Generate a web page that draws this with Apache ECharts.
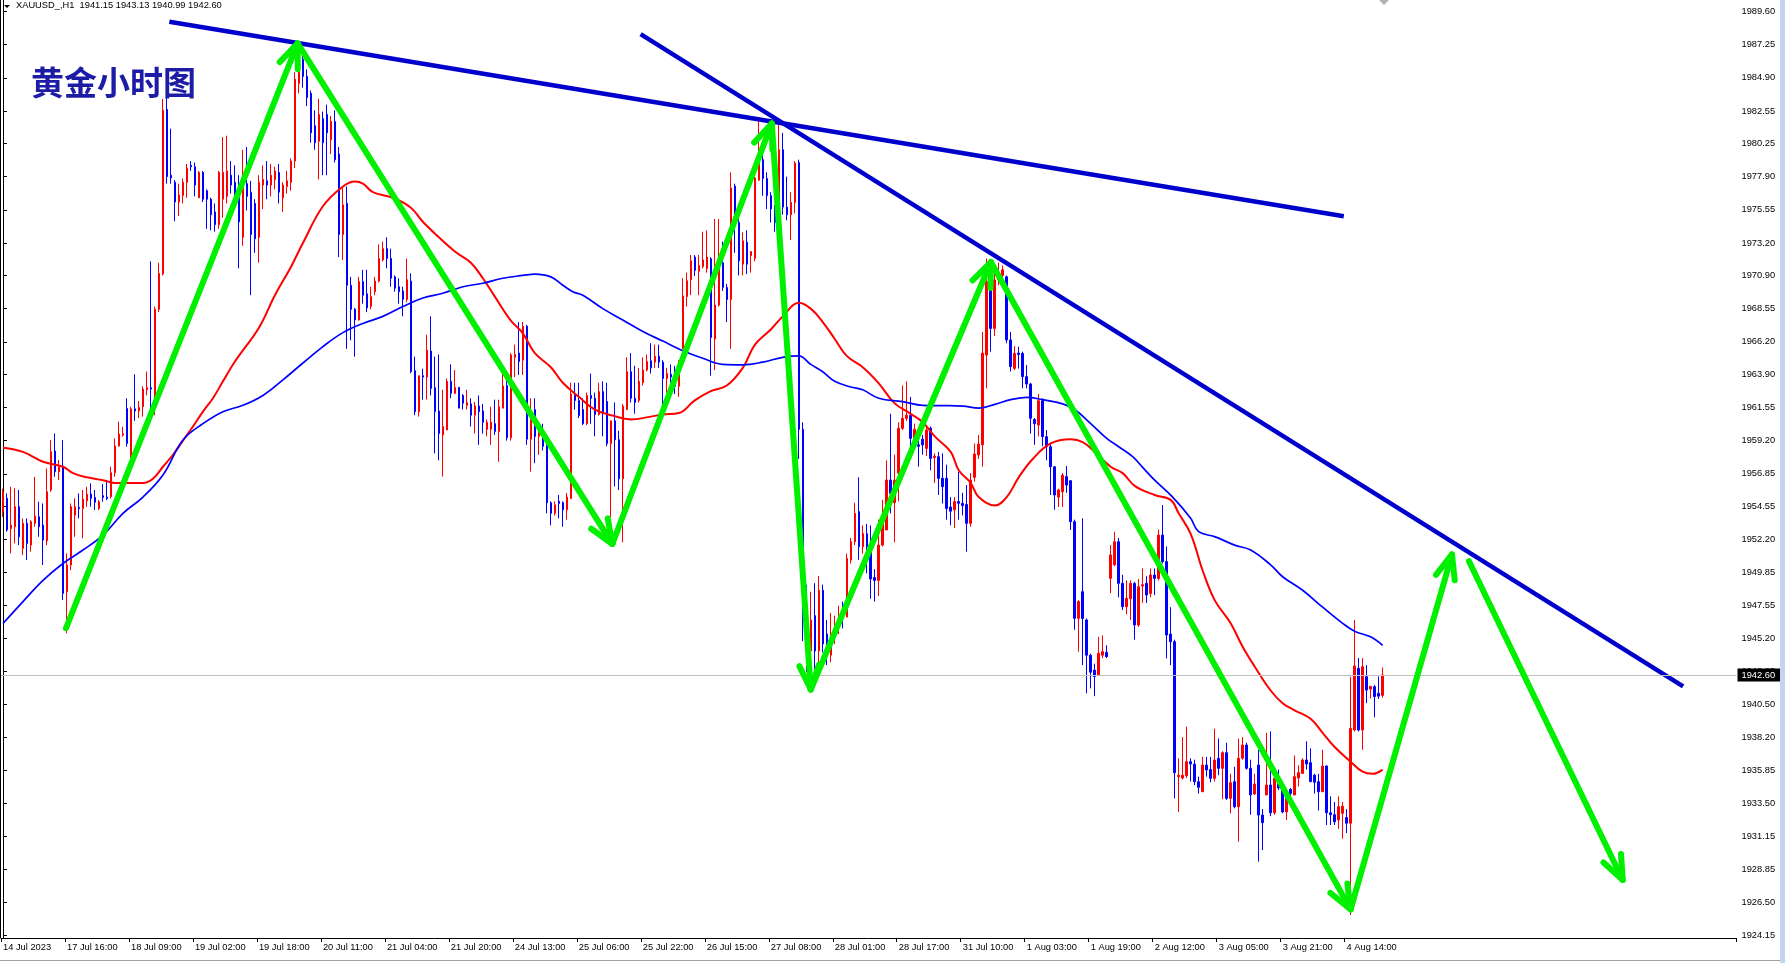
<!DOCTYPE html>
<html><head><meta charset="utf-8">
<script src="https://cdn.jsdelivr.net/npm/echarts@6/dist/echarts.min.js"></script>
<style>html,body{margin:0;padding:0;background:#fff}#c{width:1785px;height:963px}</style>
</head><body><div id="c"></div>
<script>
// ---- data ----
const symbolTitle = 'XAUUSD_,H1  1941.15 1943.13 1940.99 1942.60';
const chartTitle = '黄金小时图';
const lastPrice = 1942.60;
const slotCount = 434; // bar slots incl. empty chart shift
const xTickLabels = ['14 Jul 2023','17 Jul 16:00','18 Jul 09:00','19 Jul 02:00','19 Jul 18:00','20 Jul 11:00','21 Jul 04:00','21 Jul 20:00','24 Jul 13:00','25 Jul 06:00','25 Jul 22:00','26 Jul 15:00','27 Jul 08:00','28 Jul 01:00','28 Jul 17:00','31 Jul 10:00','1 Aug 03:00','1 Aug 19:00','2 Aug 12:00','3 Aug 05:00','3 Aug 21:00','4 Aug 14:00'];
const barsPerLabel = 16;
const yTickLabels = ['1924.15','1926.50','1928.85','1931.15','1933.50','1935.85','1938.20','1940.50','1942.85','1945.20','1947.55','1949.85','1952.20','1954.55','1956.85','1959.20','1961.55','1963.90','1966.20','1968.55','1970.90','1973.20','1975.55','1977.90','1980.25','1982.55','1984.90','1987.25','1989.60'];
const yMin = 1923.97, yMax = 1990.41;
// [open, high, low, close]
const ohlc = [
[1954.16,1955.8,1953.8,1955.58],[1955.11,1955.46,1952.75,1952.87],[1952.98,1955.93,1951.21,1953.22],[1953.10,1955.82,1951.92,1954.52],
[1954.52,1955.70,1951.80,1952.39],[1951.57,1953.69,1951.09,1953.34],[1953.34,1953.69,1950.74,1951.92],[1951.80,1953.57,1951.33,1953.46],
[1953.34,1956.64,1953.10,1953.86],[1953.81,1954.87,1952.39,1953.10],[1953.22,1954.75,1950.39,1952.16],[1952.11,1957.23,1951.80,1955.58],
[1955.70,1959.24,1955.58,1958.41],[1958.46,1959.71,1956.64,1957.00],[1957.00,1957.82,1956.41,1957.30],[1957.40,1959.24,1947.91,1948.38],
[1948.50,1951.21,1945.55,1950.39],[1950.39,1954.75,1950.03,1954.52],[1953.93,1955.11,1952.39,1954.52],[1954.47,1955.46,1953.69,1954.38],
[1954.40,1955.70,1952.28,1955.06],[1954.94,1955.93,1954.52,1955.39],[1955.42,1956.17,1954.52,1955.11],[1955.18,1955.70,1954.28,1954.83],
[1954.40,1954.99,1954.28,1954.87],[1955.30,1956.12,1954.87,1955.18],[1955.20,1956.41,1954.99,1955.10],[1955.23,1957.35,1955.11,1956.93],
[1956.93,1959.36,1956.64,1958.82],[1958.82,1960.54,1958.77,1959.67],[1959.60,1960.18,1959.48,1959.70],[1961.48,1962.2,1958.77,1959.00],
[1957.94,1961.6,1957.2,1961.45],[1961.45,1963.9,1960.6,1961.3],[1961.3,1962.0,1960.8,1961.55],[1961.6,1963.05,1960.9,1962.85],
[1962.8,1964.1,1962.4,1962.95],[1962.95,1971.9,1960.5,1962.85],[1962.1,1968.7,1961.0,1968.5],[1968.5,1971.8,1968.3,1971.05],
[1971.0,1983.4,1970.9,1982.6],[1982.65,1984.13,1977.4,1977.9],[1978.0,1981.3,1977.4,1977.8],[1977.5,1977.65,1974.74,1976.1],
[1976.1,1977.4,1975.1,1976.6],[1976.56,1977.78,1976.0,1977.5],[1977.5,1978.8,1976.4,1978.5],[1978.7,1979.0,1978.3,1978.6],
[1978.6,1978.9,1976.5,1977.3],[1976.4,1978.3,1976.4,1978.2],[1978.2,1978.3,1976.1,1976.3],[1976.9,1977.0,1974.2,1976.3],
[1976.3,1976.4,1974.1,1975.2],[1975.4,1976.0,1974.0,1974.5],[1974.5,1978.3,1974.2,1978.2],[1976.3,1980.7,1975.0,1978.2],
[1976.5,1980.8,1976.0,1978.3],[1978.0,1979.0,1976.7,1977.3],[1977.5,1978.7,1976.0,1976.6],[1976.8,1978.0,1971.4,1974.7],
[1973.6,1979.8,1973.0,1977.5],[1977.4,1980.0,1975.5,1976.5],[1976.8,1977.6,1969.5,1973.8],[1976.0,1976.3,1972.5,1973.5],
[1973.6,1978.0,1971.8,1977.5],[1977.3,1978.7,1975.6,1977.7],[1977.6,1979.0,1976.3,1977.3],[1977.3,1978.8,1976.5,1978.0],
[1977.7,1978.6,1977.0,1978.3],[1978.2,1978.8,1976.0,1976.8],[1976.4,1977.5,1975.4,1977.3],[1977.2,1978.3,1976.7,1977.6],
[1977.5,1979.2,1976.9,1979.0],[1979.0,1985.3,1978.5,1984.8],[1984.5,1987.0,1983.8,1985.6],[1986.2,1987.1,1984.2,1985.0],
[1985.0,1985.5,1982.9,1983.5],[1983.8,1984.0,1980.3,1981.0],[1981.5,1982.6,1979.8,1980.3],[1980.4,1983.4,1977.7,1982.3],
[1982.0,1982.5,1978.0,1980.3],[1982.3,1983.0,1978.0,1981.0],[1980.5,1982.2,1979.5,1981.8],[1981.8,1982.6,1978.9,1979.1],
[1979.5,1980.0,1972.2,1973.8],[1973.8,1977.2,1972.0,1975.9],[1976.0,1977.2,1965.7,1970.2],[1970.2,1970.8,1966.3,1968.5],
[1968.5,1968.6,1965.15,1967.75],[1967.75,1970.8,1967.7,1970.46],[1970.46,1971.3,1968.9,1969.5],[1969.6,1971.3,1968.3,1968.6],
[1968.7,1970.1,1968.5,1969.4],[1969.75,1970.8,1969.5,1970.5],[1970.5,1973.1,1970.4,1972.1],[1972.0,1973.3,1971.9,1972.8],
[1972.8,1973.6,1971.4,1972.1],[1972.1,1972.8,1970.1,1970.7],[1970.8,1970.9,1969.75,1970.0],[1970.1,1970.7,1968.9,1969.75],
[1969.8,1970.1,1968.0,1969.2],[1969.2,1972.1,1969.0,1970.6],[1970.5,1971.05,1963.97,1964.1],[1964.15,1965.15,1961.0,1961.25],
[1961.25,1963.8,1960.9,1963.8],[1963.8,1964.3,1962.1,1963.7],[1963.7,1966.7,1962.1,1965.6],[1965.55,1968.0,1962.4,1962.9],
[1962.95,1965.15,1958.3,1961.25],[1961.3,1965.3,1957.8,1959.7],[1959.6,1962.8,1956.65,1960.2],[1959.95,1963.6,1959.95,1963.4],
[1963.4,1964.6,1962.2,1962.55],[1962.55,1964.2,1962.5,1962.97],[1962.97,1963.0,1961.5,1961.5],[1962.4,1962.5,1961.4,1961.85],
[1961.7,1962.8,1961.4,1961.9],[1961.8,1962.2,1960.2,1961.0],[1961.0,1961.95,1959.7,1961.65],[1961.65,1962.4,1958.9,1961.25],
[1961.3,1961.8,1959.7,1960.5],[1960.0,1960.7,1959.5,1960.5],[1960.0,1961.6,1958.9,1960.5],[1960.4,1962.1,1959.6,1959.85],
[1959.85,1962.1,1957.7,1961.6],[1961.5,1964.0,1961.5,1963.07],[1963.1,1963.7,1959.2,1959.4],[1959.4,1965.4,1959.2,1965.27],
[1965.1,1966.0,1963.7,1965.3],[1965.4,1967.6,1963.85,1964.8],[1964.9,1967.6,1963.85,1967.3],[1967.3,1967.4,1958.9,1959.3],
[1959.3,1962.2,1957.0,1961.1],[1961.4,1962.2,1957.6,1959.5],[1959.5,1960.4,1958.2,1959.8],[1959.4,1960.4,1958.5,1958.8],
[1959.0,1959.25,1954.05,1954.8],[1954.8,1954.9,1953.2,1954.05],[1954.05,1954.9,1953.9,1954.65],[1954.9,1955.35,1953.7,1954.75],
[1954.8,1954.9,1953.1,1954.3],[1954.3,1955.5,1953.6,1955.2],[1955.1,1963.3,1955.1,1962.5],[1962.46,1963.3,1961.4,1962.05],
[1962.05,1963.3,1960.8,1960.97],[1961.4,1962.2,1960.3,1960.4],[1960.4,1962.6,1960.3,1962.4],[1962.4,1963.95,1960.4,1962.2],
[1962.2,1962.6,1959.5,1961.05],[1961.05,1963.3,1960.97,1962.67],[1962.67,1963.4,1959.5,1961.2],[1961.97,1963.3,1958.8,1958.99],
[1958.99,1960.6,1953.78,1960.6],[1960.6,1961.9,1955.95,1959.26],[1959.26,1959.9,1955.7,1956.5],[1956.5,1961.8,1952.0,1961.64],
[1961.4,1965.1,1961.4,1964.08],[1964.08,1965.4,1961.9,1962.2],[1962.2,1964.5,1961.1,1961.9],[1962.05,1964.35,1961.9,1963.4],
[1963.3,1965.1,1963.1,1964.2],[1964.2,1965.3,1964.1,1964.8],[1964.85,1966.1,1963.95,1964.35],[1964.76,1966.0,1964.35,1965.17],
[1965.17,1966.0,1964.35,1964.76],[1964.76,1964.9,1961.65,1963.6],[1963.6,1964.35,1962.6,1963.95],[1963.9,1964.6,1962.7,1963.7],
[1964.2,1964.5,1962.5,1963.05],[1963.05,1964.9,1962.3,1964.84],[1965.7,1970.7,1965.7,1969.45],[1969.4,1971.1,1968.7,1970.53],
[1970.6,1972.35,1969.5,1971.94],[1972.2,1972.35,1970.85,1971.26],[1971.2,1972.35,1969.5,1971.6],[1971.53,1974.0,1971.4,1972.0],
[1971.4,1974.1,1971.1,1972.2],[1972.08,1972.2,1963.8,1966.5],[1966.4,1974.9,1964.2,1968.8],[1968.8,1974.9,1968.7,1972.2],
[1971.8,1973.3,1969.8,1970.05],[1970.05,1970.3,1967.6,1969.2],[1969.2,1978.2,1965.7,1977.1],[1977.23,1977.4,1972.5,1974.66],
[1974.66,1975.2,1970.9,1971.94],[1971.7,1973.95,1970.9,1973.35],[1973.25,1974.1,1971.0,1971.7],[1972.3,1972.6,1971.1,1972.6],
[1972.1,1977.9,1971.9,1977.8],[1977.65,1982.0,1977.6,1979.0],[1979.1,1979.5,1976.55,1977.77],[1977.77,1978.2,1975.6,1976.55],
[1976.55,1976.8,1974.65,1975.6],[1975.6,1975.9,1974.0,1974.65],[1974.65,1981.57,1974.4,1979.8],[1979.8,1981.0,1975.2,1975.74],
[1975.74,1977.9,1974.8,1975.2],[1975.2,1976.8,1973.4,1976.07],[1976.07,1979.0,1975.3,1978.86],[1978.9,1979.1,1957.9,1960.0],
[1960.0,1960.5,1945.0,1947.0],[1947.5,1949.0,1942.8,1944.3],[1944.3,1948.5,1943.2,1946.5],[1946.8,1949.1,1943.0,1944.3],
[1944.3,1949.6,1943.5,1948.6],[1948.6,1949.0,1944.2,1944.8],[1945.5,1946.5,1943.3,1944.0],[1944.0,1947.0,1943.5,1945.5],
[1945.5,1946.8,1944.8,1946.2],[1946.2,1947.5,1945.5,1946.8],[1947.6,1947.8,1945.9,1947.1],[1946.7,1951.2,1946.7,1950.86],
[1950.74,1952.3,1950.5,1952.04],[1952.04,1954.8,1951.8,1954.05],[1954.17,1956.6,1950.75,1951.69],[1951.69,1953.2,1951.2,1952.63],
[1952.6,1953.3,1949.8,1951.7],[1951.3,1953.2,1948.0,1949.4],[1949.5,1950.1,1947.8,1949.3],[1949.3,1953.6,1948.2,1951.8],
[1951.8,1955.0,1951.7,1953.7],[1952.87,1957.8,1952.87,1956.41],[1956.41,1961.1,1954.05,1955.47],[1954.8,1958.2,1952.0,1956.4],
[1956.9,1960.5,1954.9,1960.07],[1960.07,1963.1,1959.95,1960.78],[1960.78,1963.4,1960.6,1961.0],[1961.0,1962.3,1958.8,1959.36],
[1959.4,1960.4,1958.6,1960.0],[1958.9,1960.1,1957.35,1958.8],[1959.3,1959.6,1958.2,1958.9],[1958.65,1960.3,1958.1,1959.95],
[1960.07,1960.2,1957.1,1957.94],[1958.0,1958.3,1956.2,1958.1],[1958.06,1958.4,1955.35,1956.53],[1956.53,1958.3,1954.75,1955.94],
[1956.53,1957.5,1953.6,1954.4],[1954.5,1955.2,1953.2,1954.2],[1954.3,1955.2,1953.0,1954.88],[1954.88,1957.0,1953.6,1954.76],
[1954.76,1955.5,1953.9,1954.6],[1954.68,1956.05,1951.33,1953.34],[1953.34,1956.9,1953.1,1956.41],[1956.6,1959.0,1956.3,1958.25],
[1958.18,1959.6,1957.9,1958.96],[1958.9,1966.9,1957.35,1965.4],[1965.26,1972.1,1962.9,1970.46],[1969.99,1971.05,1965.5,1967.15],
[1967.15,1971.4,1966.6,1970.58],[1970.6,1971.8,1970.2,1970.9],[1970.9,1971.6,1970.5,1971.3],[1970.8,1970.9,1966.1,1966.33],
[1966.33,1966.9,1964.1,1964.44],[1964.32,1965.9,1964.2,1965.38],[1965.4,1965.85,1964.3,1965.3],[1965.38,1965.5,1962.9,1963.73],
[1963.73,1964.55,1962.9,1963.21],[1963.21,1963.3,1959.7,1960.78],[1960.7,1960.8,1958.9,1960.4],[1960.3,1962.5,1959.5,1962.03],
[1962.03,1962.2,1958.8,1959.48],[1959.48,1959.95,1957.8,1958.77],[1958.77,1959.0,1955.35,1957.35],[1957.35,1957.4,1954.3,1955.35],
[1955.2,1955.8,1954.5,1955.7],[1955.58,1956.9,1954.5,1956.76],[1956.65,1957.4,1955.5,1956.05],[1956.36,1956.4,1952.87,1953.46],
[1953.46,1953.6,1945.8,1946.61],[1946.61,1947.9,1944.25,1947.8],[1948.5,1953.7,1943.3,1946.6],[1946.5,1946.6,1941.3,1944.0],
[1944.0,1944.1,1941.65,1942.8],[1942.95,1943.4,1941.1,1942.5],[1942.6,1945.3,1942.6,1944.13],[1944.0,1945.4,1943.8,1944.25],
[1944.2,1944.7,1943.8,1943.9],[1949.45,1951.8,1948.4,1951.1],[1950.4,1952.75,1950.3,1952.04],[1952.04,1952.3,1948.1,1949.09],
[1949.09,1949.7,1947.2,1947.44],[1947.44,1949.3,1946.9,1948.03],[1948.0,1949.3,1946.5,1949.09],[1949.09,1949.2,1945.1,1946.14],
[1946.14,1949.4,1946.0,1948.85],[1948.9,1950.15,1947.7,1949.0],[1949.09,1949.6,1947.7,1948.26],[1948.38,1950.15,1948.1,1949.68],
[1949.68,1950.15,1948.26,1949.44],[1949.44,1952.9,1949.3,1952.51],[1952.51,1954.64,1950.5,1950.63],[1950.63,1951.7,1943.78,1945.43],
[1945.5,1947.4,1943.3,1944.96],[1944.96,1945.1,1933.86,1935.68],[1935.4,1936.7,1932.9,1935.5],[1935.3,1938.2,1935.2,1935.5],
[1935.47,1938.94,1935.3,1936.46],[1936.46,1936.7,1935.05,1936.3],[1936.29,1936.6,1934.8,1935.04],[1935.04,1935.4,1934.2,1934.64],
[1934.33,1936.8,1934.33,1936.22],[1936.22,1936.8,1935.4,1935.87],[1935.9,1936.8,1935.0,1935.28],[1935.28,1938.8,1935.05,1936.58],
[1936.7,1938.1,1935.5,1935.99],[1935.99,1937.2,1933.8,1937.1],[1937.1,1937.8,1933.75,1933.86],[1933.86,1935.6,1932.8,1934.97],
[1935.04,1936.1,1933.15,1933.27],[1933.27,1938.1,1930.79,1936.7],[1936.7,1938.2,1936.6,1937.64],[1937.64,1937.8,1935.9,1935.99],
[1935.99,1936.6,1932.7,1934.1],[1934.17,1935.6,1934.1,1934.88],[1936.22,1937.3,1929.38,1932.68],[1932.68,1933.1,1930.2,1932.14],
[1934.1,1938.5,1934.1,1934.81],[1934.81,1938.6,1932.6,1932.84],[1932.84,1936.0,1932.7,1935.28],[1934.9,1935.9,1934.45,1934.6],
[1934.45,1934.6,1932.8,1932.9],[1932.9,1934.2,1932.33,1933.86],[1934.5,1934.6,1934.0,1934.2],[1934.1,1936.9,1934.1,1935.4],
[1935.3,1936.2,1934.7,1935.68],[1935.63,1936.7,1935.6,1936.58],[1936.58,1937.9,1935.9,1936.3],[1936.39,1937.4,1935.04,1935.04],
[1935.5,1935.6,1934.2,1935.0],[1935.04,1935.6,1933.0,1934.33],[1934.33,1937.3,1934.33,1936.15],[1936.15,1936.2,1931.97,1932.84],
[1932.84,1934.0,1931.97,1932.7],[1932.7,1933.6,1931.97,1932.2],[1932.33,1934.0,1931.7,1933.27],[1932.8,1933.6,1931.0,1933.3],
[1932.5,1933.1,1931.4,1932.1],[1932.1,1942.48,1925.6,1938.82],[1938.7,1946.5,1938.6,1943.24],[1943.07,1943.8,1938.6,1938.7],
[1938.7,1943.8,1937.3,1943.19],[1942.48,1943.3,1940.6,1941.53],[1941.6,1941.8,1940.95,1941.8],[1941.77,1941.9,1939.6,1941.07],
[1941.3,1942.5,1940.9,1941.1],[1941.15,1943.13,1940.99,1942.60]
];
// moving averages: [bar, price]
const maRed = [[0,1958.7],[5,1958.4],[10,1957.7],[15,1957.35],[17.5,1956.9],[21,1956.6],[25,1956.4],[28,1956.2],[35,1956.2],[37.5,1956.5],[40,1957.35],[42.5,1958.2],[45,1959.2],[47.5,1960.2],[50,1961.25],[52.5,1962.2],[55,1963.4],[58,1964.8],[64,1967.2],[68,1969.5],[72,1971.5],[75,1973.2],[80,1975.8],[85,1977.2],[88,1977.55],[90,1977.4],[92.5,1976.8],[97.5,1976.4],[102,1975.7],[105,1974.7],[109,1973.6],[113,1972.6],[117,1971.8],[120,1970.7],[123,1969.4],[127,1967.7],[130,1966.8],[133,1965.4],[137,1964.4],[140,1963.3],[144,1962.3],[148,1961.4],[152.5,1960.97],[157,1960.7],[162,1960.9],[165,1961.05],[169,1961.15],[173,1962.05],[177,1962.7],[181,1963.1],[185,1964.35],[188,1965.98],[192,1967.07],[195,1968.0],[199,1968.96],[202,1968.55],[205,1967.6],[208,1966.4],[211,1965.2],[215,1964.4],[219,1963.26],[223,1961.84],[227,1961.1],[230,1960.5],[233,1959.5],[237,1958.4],[239,1957.1],[242,1956.2],[244,1955.2],[248,1954.6],[251,1955.2],[254,1956.6],[257.5,1957.9],[262,1959.0],[267,1959.3],[270,1959.1],[273,1958.4],[277,1957.35],[280,1956.9],[283,1956.0],[288,1955.35],[292,1955.0],[294,1954.05],[297,1952.6],[300,1950.0],[303,1947.9],[307,1946.26],[310,1944.6],[313,1943.2],[317,1941.5],[320,1940.6],[323,1940.1],[327,1939.5],[330,1938.5],[333,1937.5],[337,1936.46],[340,1935.75],[342.5,1935.6],[345,1935.9]];
const maBlue = [[0,1946.25],[5,1947.8],[10,1949.3],[15,1950.5],[20,1951.45],[25,1952.5],[30,1954.05],[35,1955.2],[40,1956.76],[45,1959.24],[50,1960.4],[55,1961.25],[60,1961.7],[65,1962.4],[70,1963.5],[75,1964.7],[80,1965.86],[85,1966.85],[90,1967.5],[95,1968.0],[100,1968.7],[105,1969.3],[110,1969.64],[115,1970.1],[120,1970.35],[125,1970.7],[130,1970.9],[133,1971.0],[137,1970.8],[140,1970.2],[142.5,1969.75],[145,1969.5],[150,1968.55],[155,1967.74],[160,1966.93],[165,1966.25],[170,1965.57],[175,1965.03],[180,1964.6],[185,1964.57],[190,1964.76],[195,1965.1],[199,1965.2],[202,1964.6],[205,1964.08],[208,1963.4],[212,1963.0],[215,1962.8],[219,1962.2],[225,1961.96],[230,1961.7],[235,1961.68],[240,1961.65],[244,1961.5],[248,1961.77],[252,1962.1],[256,1962.27],[260,1962.1],[265,1961.8],[268,1961.4],[272,1960.4],[276,1959.36],[279,1958.77],[282.5,1958.06],[285,1957.3],[288,1956.4],[292.5,1955.2],[297,1953.7],[299,1952.75],[303,1952.4],[308,1951.8],[312,1951.45],[317,1950.4],[320,1949.56],[325,1948.6],[330,1947.4],[335,1946.26],[338,1945.7],[342,1945.3],[345,1944.7]];
// trend lines [bar, price] end points
const trendLineA = [[41.6,1988.87],[335.3,1975.09]];
const trendLineB = [[159.45,1987.99],[420.15,1941.79]];
// green arrows: [fromBar, fromPrice, toBar, toPrice]
const arrowSegments = [
  [15.75,1945.91,73.675,1987.34],
  [73.675,1987.34,152.375,1951.88],
  [152.375,1951.88,192.25,1981.66],
  [192.25,1981.66,202.0,1941.57],
  [202.0,1941.57,247.05,1971.85],
  [247.05,1971.85,337.0,1926.0],
  [337.0,1926.0,362.35,1951.14],
  [366.6,1950.66,405.05,1928.08]
];

// ---- chart ----
const GREEN = '#00f000';
const FONT = 'Liberation Sans';
const slots = Array.from({length: slotCount}, (_, i) => String(i));
const showTick = (i) => i % barsPerLabel === 0 && i / barsPerLabel < xTickLabels.length;

function renderArrow(params, api) {
  const a = api.coord([api.value(0), api.value(1)]);
  const b = api.coord([api.value(2), api.value(3)]);
  const dx = a[0] - b[0], dy = a[1] - b[1];
  const len = Math.hypot(dx, dy) || 1;
  const ux = dx / len, uy = dy / len;
  const ang = 22 * Math.PI / 180, wl = 26;
  const wing = (t) => [b[0] + wl * (ux * Math.cos(t) - uy * Math.sin(t)), b[1] + wl * (ux * Math.sin(t) + uy * Math.cos(t))];
  const st = {stroke: GREEN, lineWidth: 6, fill: null, lineCap: 'round', lineJoin: 'round'};
  return {type: 'group', children: [
    {type: 'line', shape: {x1: a[0], y1: a[1], x2: b[0], y2: b[1]}, style: st},
    {type: 'polyline', shape: {points: [wing(ang), b, wing(-ang)]}, style: st}
  ]};
}

const chart = echarts.init(document.getElementById('c'), null, {renderer: 'canvas'});
chart.setOption({
  animation: false,
  backgroundColor: '#ffffff',
  grid: {left: 0.5, right: 48.5, top: 0, bottom: 25, containLabel: false},
  xAxis: [{
    type: 'category', data: slots, boundaryGap: true, gridIndex: 0,
    axisLine: {show: true, lineStyle: {color: '#000', width: 1}},
    axisTick: {show: true, length: 4, interval: (i) => showTick(i), lineStyle: {color: '#000'}},
    axisLabel: {show: true, interval: (i) => showTick(i), formatter: (v, i) => xTickLabels[Math.round(Number(v) / barsPerLabel)] || '',
      align: 'left', color: '#000', fontSize: 9.3, fontFamily: FONT, margin: 5},
    splitLine: {show: false}
  }, {
    type: 'value', min: -0.5, max: slotCount - 0.5, show: false, gridIndex: 0
  }],
  yAxis: [{
    type: 'value', position: 'right', min: yMin, max: yMax, scale: true,
    axisLine: {show: true, lineStyle: {color: '#000', width: 1}},
    axisTick: {show: true, length: 4, customValues: yTickLabels.map(Number), lineStyle: {color: '#000'}},
    axisLabel: {show: true, customValues: yTickLabels.map(Number), formatter: (v) => Number(v).toFixed(2),
      color: '#000', fontSize: 9.3, fontFamily: FONT, margin: 5},
    splitLine: {show: false}
  }],
  series: [{
    type: 'candlestick', xAxisIndex: 0, yAxisIndex: 0, barWidth: 2, z: 2, silent: true,
    data: ohlc.map(r => [r[0], r[3], r[2], r[1]]),
    itemStyle: {color: '#ff0000', color0: '#0000ff', borderColor: '#ff0000', borderColor0: '#0000ff', borderWidth: 1},
    markLine: {
      silent: true, symbol: ['none', 'none'], animation: false,
      data: [{yAxis: lastPrice}],
      lineStyle: {color: '#c0c0c0', width: 1, type: 'solid'},
      label: {show: true, position: 'end', formatter: lastPrice.toFixed(2), color: '#fff', backgroundColor: '#000',
        fontSize: 9.3, fontFamily: FONT, padding: [2, 8, 2, 4], distance: 1}
    }
  }, {
    type: 'line', xAxisIndex: 1, yAxisIndex: 0, data: maRed, smooth: 0.4, showSymbol: false, symbol: 'none', z: 3, silent: true,
    lineStyle: {color: '#ff0000', width: 2}
  }, {
    type: 'line', xAxisIndex: 1, yAxisIndex: 0, data: maBlue, smooth: 0.4, showSymbol: false, symbol: 'none', z: 3, silent: true,
    lineStyle: {color: '#0000ff', width: 1.7}
  }, {
    type: 'line', xAxisIndex: 1, yAxisIndex: 0, data: trendLineA, showSymbol: false, symbol: 'none', z: 4, silent: true,
    lineStyle: {color: '#0000cc', width: 4.5}
  }, {
    type: 'line', xAxisIndex: 1, yAxisIndex: 0, data: trendLineB, showSymbol: false, symbol: 'none', z: 4, silent: true,
    lineStyle: {color: '#0000cc', width: 4.5}
  }, {
    type: 'custom', xAxisIndex: 1, yAxisIndex: 0, data: arrowSegments, renderItem: renderArrow, z: 5, silent: true, clip: false,
    encode: {x: [0, 2], y: [1, 3]}
  }],
  graphic: [
    {type: 'line', shape: {x1: 0.5, y1: 0, x2: 0.5, y2: 938}, style: {stroke: '#000', lineWidth: 1}, z: 10},
    {type: 'polygon', shape: {points: [[4, 5], [10, 5], [7, 8]]}, style: {fill: '#000'}, z: 10},
    {type: 'text', left: 16, top: 1, style: {text: symbolTitle, fill: '#000', font: '9.3px "Liberation Sans"'}, z: 10},
    {type: 'text', left: 31, top: 66, style: {text: chartTitle, fill: '#1c1ca6', font: 'bold 33px "Noto Sans CJK SC"'}, z: 10},
    {type: 'polygon', shape: {points: [[1379, 0], [1389, 0], [1384, 5]]}, style: {fill: '#b0b0b0'}, z: 10},
    {type: 'rect', shape: {x: 1780, y: 0, width: 5, height: 963}, style: {fill: '#c3d5ec'}, z: 10},
    {type: 'line', shape: {x1: 0, y1: 960.5, x2: 1780, y2: 960.5}, style: {stroke: '#a0a0a0', lineWidth: 1}, z: 10}
  ]
});
</script></body></html>
